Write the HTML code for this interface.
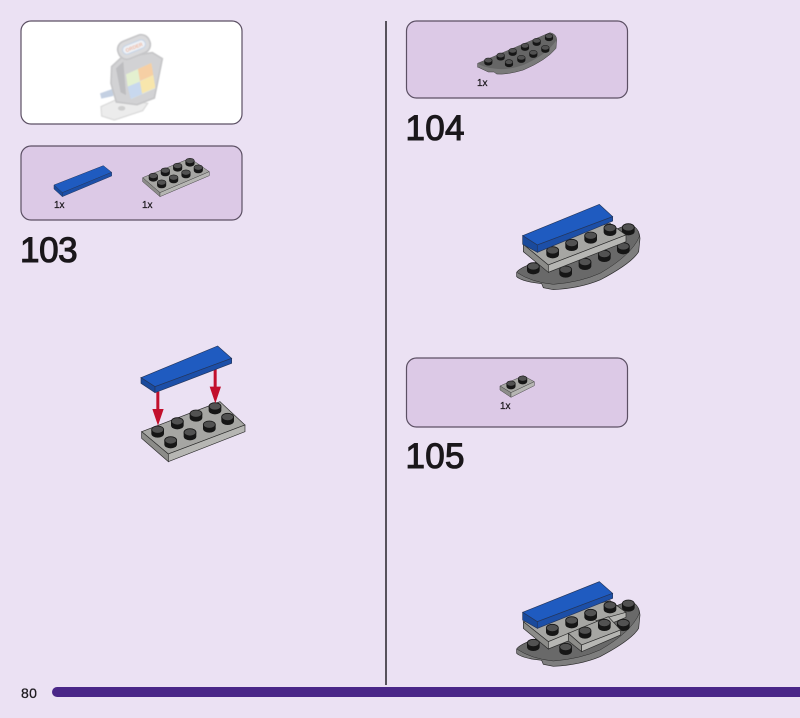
<!DOCTYPE html>
<html>
<head>
<meta charset="utf-8">
<style>
html,body{margin:0;padding:0;background:#ebe1f3;}
svg{display:block;}
text{font-family:"Liberation Sans",sans-serif;fill:#1a171b;}
.h{font-size:35px;stroke:#1a171b;stroke-width:1.1px;letter-spacing:.3px;}
.q{font-size:10px;stroke:#1a171b;stroke-width:.25px;}
.a{filter:url(#f);}
</style>
</head>
<body>
<svg width="800" height="718" viewBox="0 0 800 718" xmlns="http://www.w3.org/2000/svg">
<defs>
<g id="s"><path d="M-19-5v11a19 12 0 0 0 38 0v-11z" fill="#161616"/><ellipse cy="-6" rx="18" ry="11" fill="#525252" stroke="#161616" stroke-width="2.5"/></g>
<filter id="b" color-interpolation-filters="sRGB"><feGaussianBlur stdDeviation="1.4"/></filter>
<filter id="f" color-interpolation-filters="sRGB"><feGaussianBlur stdDeviation=".4"/></filter>
</defs>
<rect width="800" height="718" fill="#ebe1f3"/>

<!-- panels -->
<rect x="21" y="21" width="221" height="103" rx="10" fill="#fff" stroke="#5c5064" stroke-width="1.2"/>
<rect x="21" y="146" width="221" height="74" rx="10" fill="#dcc9e6" stroke="#5c5064" stroke-width="1.2"/>
<rect x="406.5" y="21" width="221" height="77" rx="10" fill="#dcc9e6" stroke="#5c5064" stroke-width="1.2"/>
<rect x="406.5" y="358" width="221" height="69" rx="10" fill="#dcc9e6" stroke="#5c5064" stroke-width="1.2"/>

<!-- divider -->
<line x1="386" y1="21" x2="386" y2="685" stroke="#26222a" stroke-width="1.5"/>

<!-- thumbnail -->
<g transform="translate(90,25) scale(.3333)" filter="url(#b)">
<path d="M30 205l40-14 0 22-36 8z" fill="#c4d0e2"/>
<path d="M33 245l55-25 85 15-15 22-85 28-38-12z" fill="#ececec" stroke="#dcdcdc" stroke-width="4"/>
<ellipse cx="95" cy="250" rx="11" ry="7" fill="#cfcfcf"/>
<ellipse cx="158" cy="222" rx="10" ry="6" fill="#c8c8c8"/>
<path d="M65 125l30-28 92-14 30 18-10 50-14 68-52 20-62-8-16-56z" fill="#d2d2d4" stroke="#c6c6c8" stroke-width="5"/>
<path d="M78 130l22-20 8 100-16-8z" fill="#bdbdc0"/>
<path d="M108 148l76-34 12 76-72 32z" fill="#e4e8de"/>
<path d="M108 148l36-16 5 38-36 15z" fill="#e4f0d0"/>
<path d="M144 132l40-18 6 36-40 18z" fill="#f6cfa4"/>
<path d="M113 185l37-15 7 37-35 15z" fill="#c8d8ee"/>
<path d="M150 170l40-20 6 38-40 17z" fill="#f8e6ac"/>
<g transform="rotate(-22 132 66)">
<rect x="82" y="38" width="100" height="56" rx="26" fill="#dadadc" stroke="#c6c6c8" stroke-width="5"/>
<rect x="96" y="53" width="72" height="26" rx="13" fill="#eef1f6" stroke="#c6d4e6" stroke-width="3"/>
<text x="132" y="72" font-size="15" font-weight="bold" text-anchor="middle" style="fill:#eebba6">ORDER</text>
</g>
</g>

<!-- 103 parts -->
<g transform="scale(.3333)" class="a">
<path d="M162 555L310 497 335 517 187 578z" fill="#1f5bc0" stroke="#24365c" stroke-width="1.5"/>
<path d="M162 555v12l25 23v-12z" fill="#1a4a9c" stroke="#24365c" stroke-width="1.5"/>
<path d="M187 578v12l148-62v-11z" fill="#1c4fa8" stroke="#24365c" stroke-width="1.5"/>
<path d="M428 533L570 475 628 515 480 578z" fill="#a6a6a3" stroke="#444" stroke-width="1.5"/>
<path d="M428 533v12l52 45v-12z" fill="#8c8c89" stroke="#444" stroke-width="1.5"/>
<path d="M480 578v12l148-63v-12z" fill="#b6b6b3" stroke="#444" stroke-width="1.5"/>
<use href="#s" transform="translate(460,532) scale(.72)"/>
<use href="#s" transform="translate(496,516) scale(.72)"/>
<use href="#s" transform="translate(533,502) scale(.72)"/>
<use href="#s" transform="translate(570,487) scale(.72)"/>
<use href="#s" transform="translate(485,552) scale(.72)"/>
<use href="#s" transform="translate(521,537) scale(.72)"/>
<use href="#s" transform="translate(558,522) scale(.72)"/>
<use href="#s" transform="translate(595,507) scale(.72)"/>
</g>
<text class="q" x="54" y="208">1x</text>
<text class="q" x="142" y="208">1x</text>
<text class="h" x="20" y="262" style="letter-spacing:-.4px">103</text>

<!-- 103 main -->
<g transform="translate(120,330) scale(.3333)" class="a">
<path d="M65 305L300 215 375 285 145 372z" fill="#a6a6a3" stroke="#2a2a2a" stroke-width="2"/>
<path d="M65 305v20l80 70v-23z" fill="#8c8c89" stroke="#2a2a2a" stroke-width="2"/>
<path d="M145 372v23l230-90v-20z" fill="#b6b6b3" stroke="#2a2a2a" stroke-width="2"/>
<use href="#s" x="113" y="305"/>
<use href="#s" x="172" y="280"/>
<use href="#s" x="228" y="257"/>
<use href="#s" x="285" y="235"/>
<use href="#s" x="152" y="337"/>
<use href="#s" x="210" y="313"/>
<use href="#s" x="268" y="290"/>
<use href="#s" x="323" y="267"/>
<path d="M109 185h9v52h13l-17 50-17-50h12z" fill="#c20f2c"/>
<path d="M281 115h9v55h13l-17 50-17-50h12z" fill="#c20f2c"/>
<path d="M63 143L293 48 335 85 105 170z" fill="#1f5bc0" stroke="#24365c" stroke-width="2"/>
<path d="M63 143v17l42 28v-18z" fill="#1a4a9c" stroke="#24365c" stroke-width="2"/>
<path d="M105 170v18l230-88v-15z" fill="#1c4fa8" stroke="#24365c" stroke-width="2"/>
</g>

<!-- 104 parts -->
<g transform="translate(400,10) scale(.3333)" class="a">
<path d="M233 172v-12L450 68Q470 72 470 90L468 115Q440 150 370 180Q320 195 290 192L282 186 265 186 235 172z" fill="#7a7a7a" stroke="#3a3a3a" stroke-width="1.5"/>
<path d="M233 160L450 68Q470 72 468 92 440 135 370 165 320 182 285 176 250 172 233 160z" fill="#666"/>
<use href="#s" transform="translate(265,155) scale(.64)"/>
<use href="#s" transform="translate(302,140) scale(.64)"/>
<use href="#s" transform="translate(338,126) scale(.64)"/>
<use href="#s" transform="translate(375,111) scale(.64)"/>
<use href="#s" transform="translate(410,96) scale(.64)"/>
<use href="#s" transform="translate(447,82) scale(.64)"/>
<use href="#s" transform="translate(327,160) scale(.64)"/>
<use href="#s" transform="translate(364,147) scale(.64)"/>
<use href="#s" transform="translate(400,132) scale(.64)"/>
<use href="#s" transform="translate(436,117) scale(.64)"/>
</g>
<text class="q" x="477" y="86">1x</text>
<text class="h" x="405.5" y="140">104</text>

<!-- 104 main -->
<g transform="translate(500,195) scale(.3333)" class="a">
<path d="M50 232Q60 218 100 205L385 88Q418 95 420 130L416 170Q395 205 300 255 240 280 160 284L130 278 125 266 95 262Q60 255 50 245z" fill="#7e7e7e" stroke="#2a2a2a" stroke-width="2"/>
<path d="M50 232Q60 218 100 205L385 88Q418 95 418 125 395 180 300 235 240 262 160 268 95 262 50 232z" fill="#696969" stroke="#2a2a2a" stroke-width="1.5"/>
<use href="#s" x="100" y="220"/>
<use href="#s" x="197" y="230"/>
<use href="#s" x="255" y="207"/>
<use href="#s" x="313" y="183"/>
<use href="#s" x="370" y="160"/>
<use href="#s" x="385" y="103"/>
<path d="M70 148L330 85 378 120 145 210z" fill="#a6a6a3" stroke="#2a2a2a" stroke-width="2"/>
<path d="M70 148v22l75 62v-22z" fill="#8c8c89" stroke="#2a2a2a" stroke-width="2"/>
<path d="M145 210v22l233-92v-20z" fill="#b6b6b3" stroke="#2a2a2a" stroke-width="2"/>
<use href="#s" x="158" y="172"/>
<use href="#s" x="215" y="150"/>
<use href="#s" x="272" y="128"/>
<use href="#s" x="330" y="105"/>
<path d="M68 122L298 28 338 65 112 150z" fill="#1f5bc0" stroke="#24365c" stroke-width="2"/>
<path d="M68 122v26l44 24v-22z" fill="#1a4a9c" stroke="#24365c" stroke-width="2"/>
<path d="M112 150v22l226-94v-13z" fill="#1c4fa8" stroke="#24365c" stroke-width="2"/>
</g>

<!-- 105 parts -->
<g transform="translate(400,350) scale(.3333)" class="a">
<path d="M300 108L370 77 403 95 333 128z" fill="#a6a6a3" stroke="#444" stroke-width="1.5"/>
<path d="M300 108v12l33 22v-14z" fill="#8c8c89" stroke="#444" stroke-width="1.5"/>
<path d="M333 128v14l70-35v-12z" fill="#b6b6b3" stroke="#444" stroke-width="1.5"/>
<use href="#s" transform="translate(333,105) scale(.72)"/>
<use href="#s" transform="translate(368,90) scale(.72)"/>
</g>
<text class="q" x="500" y="409">1x</text>
<text class="h" x="405.5" y="468">105</text>

<!-- 105 main -->
<g transform="translate(500,570) scale(.3333)" class="a">
<path d="M50 237Q60 223 100 210L385 93Q418 100 420 135L416 175Q395 210 300 260 240 285 160 289L130 283 125 271 95 267Q60 260 50 250z" fill="#7e7e7e" stroke="#2a2a2a" stroke-width="2"/>
<path d="M50 237Q60 223 100 210L385 93Q418 100 418 130 395 185 300 240 240 267 160 273 95 267 50 237z" fill="#696969" stroke="#2a2a2a" stroke-width="1.5"/>
<use href="#s" x="100" y="225"/>
<use href="#s" x="197" y="237"/>
<use href="#s" x="385" y="107"/>
<path d="M70 155L330 92 378 127 145 215z" fill="#a6a6a3" stroke="#2a2a2a" stroke-width="2"/>
<path d="M70 155v20l75 62v-22z" fill="#8c8c89" stroke="#2a2a2a" stroke-width="2"/>
<path d="M145 215v22l60-24v-23z" fill="#b6b6b3" stroke="#2a2a2a" stroke-width="2"/>
<path d="M378 127v15l-60 25-30-15z" fill="#b6b6b3" stroke="#2a2a2a" stroke-width="2"/>
<use href="#s" x="370" y="165"/>
<use href="#s" x="157" y="180"/>
<use href="#s" x="215" y="157"/>
<use href="#s" x="272" y="135"/>
<use href="#s" x="330" y="112"/>
<path d="M205 190L325 140 362 180 245 225z" fill="#a6a6a3" stroke="#2a2a2a" stroke-width="2"/>
<path d="M205 190v23l40 32v-20z" fill="#8c8c89" stroke="#2a2a2a" stroke-width="2"/>
<path d="M245 225v20l117-50v-15z" fill="#b6b6b3" stroke="#2a2a2a" stroke-width="2"/>
<use href="#s" x="255" y="188"/>
<use href="#s" x="313" y="165"/>
<path d="M68 127L298 35 338 70 112 155z" fill="#1f5bc0" stroke="#24365c" stroke-width="2"/>
<path d="M68 127v23l44 25v-20z" fill="#1a4a9c" stroke="#24365c" stroke-width="2"/>
<path d="M112 155v20l226-90v-15z" fill="#1c4fa8" stroke="#24365c" stroke-width="2"/>
</g>

<!-- footer -->
<text x="21" y="698" font-size="14" style="letter-spacing:.4px;stroke:#1a171b;stroke-width:.25px">80</text>
<path d="M57 687H800V697H57a5 5 0 0 1 0-10z" fill="#4a2688"/>
</svg>
</body>
</html>
